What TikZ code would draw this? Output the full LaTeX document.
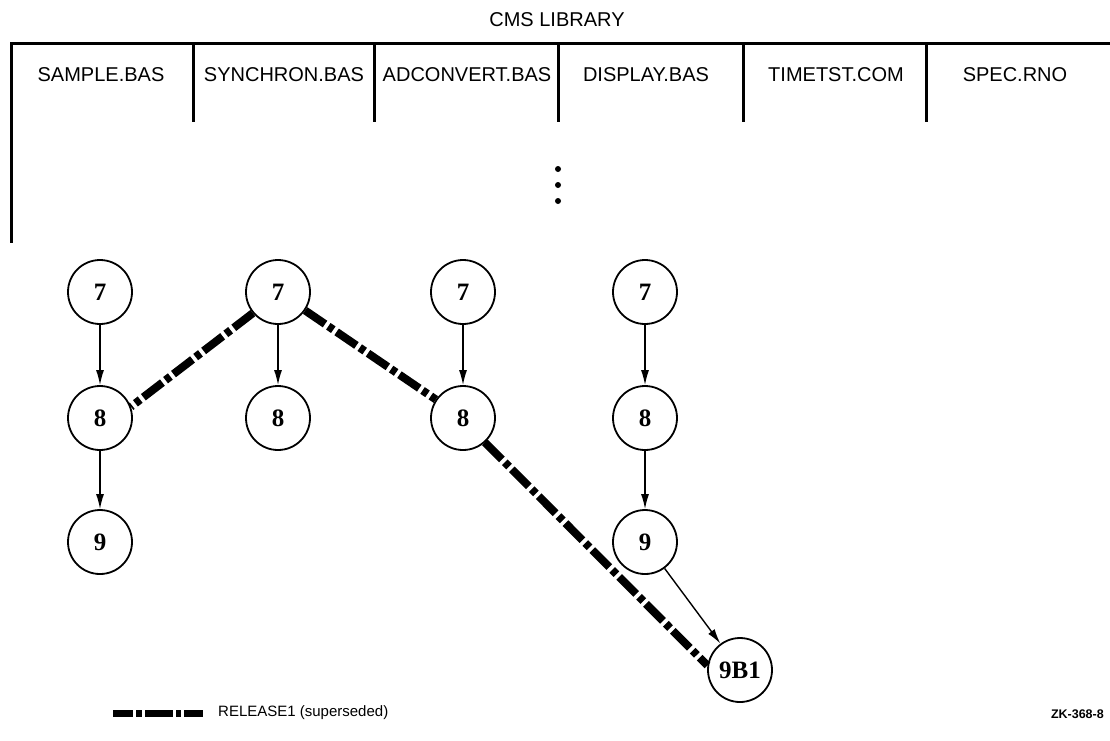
\documentclass[tikz,border=0pt]{standalone}
\usepackage{fontspec}
\setmainfont{Liberation Serif}
\newfontfamily\hdr{Liberation Sans}
\usetikzlibrary{arrows.meta}
\begin{document}
\begin{tikzpicture}[x=1pt,y=-1pt,
  ver/.style={circle,draw,line width=1.8pt,minimum size=64pt,inner sep=0pt,font=\bfseries\fontsize{25}{28}\selectfont},
  arr/.style={line width=1.4pt,-{Latex[length=15pt,width=8pt]}},
  rel/.style={line width=8pt,dash pattern=on 24pt off 4pt on 6pt off 4pt},
  frame/.style={line width=3pt},
  lbl/.style={font=\hdr\fontsize{20}{24}\selectfont,inner sep=0pt}]
\useasboundingbox (0,0) rectangle (1110,740);
% header
\node[lbl] (title) at (557,20) {CMS LIBRARY};
\coordinate (tl) at (11,43);
\coordinate (tr) at (1110,43);
\coordinate (bl) at (11,243);
\draw[frame] (tr) -- (tl) -- (bl);
\foreach \x/\n in {193/d1,374/d2,558/d3,743/d4,926/d5}{
  \coordinate (\n a) at (\x,43);
  \coordinate (\n b) at (\x,122);
  \draw[frame] (\n a) -- (\n b);
}
\node[lbl] (c1) at (101,75) {SAMPLE.BAS};
\node[lbl] (c2) at (284,75) {SYNCHRON.BAS};
\node[lbl] (c3) at (467,75) {ADCONVERT.BAS};
\node[lbl] (c4) at (646,75) {DISPLAY.BAS};
\node[lbl] (c5) at (836,75) {TIMETST.COM};
\node[lbl] (c6) at (1015,75) {SPEC.RNO};
\foreach \y/\n in {169/e1,185/e2,201/e3}{\fill (558,\y) circle (3pt);}
% graph nodes
\node[ver] (a7) at (100,292) {7};
\node[ver] (a8) at (100,418) {8};
\node[ver] (a9) at (100,542) {9};
\node[ver] (b7) at (278,292) {7};
\node[ver] (b8) at (278,418) {8};
\node[ver] (c7) at (463,292) {7};
\node[ver] (c8) at (463,418) {8};
\node[ver] (d7) at (645,292) {7};
\node[ver] (d8) at (645,418) {8};
\node[ver] (d9) at (645,542) {9};
\node[ver] (d9b) at (740,670) {9B1};
% connectors
\draw[arr] (a7) -- (a8);
\draw[arr] (a8) -- (a9);
\draw[arr] (b7) -- (b8);
\draw[arr] (c7) -- (c8);
\draw[arr] (d7) -- (d8);
\draw[arr] (d8) -- (d9);
\draw[arr] (d9) -- (d9b);
\draw[rel] (b7.220) -- (a8.20);
\draw[rel] (b7) -- (c8);
\draw[rel] (c8.-48) -- (d9b.172);
% legend
\coordinate (lg1) at (113,713);
\coordinate (lg2) at (203,713);
\draw[rel,line width=7pt,dash pattern=on 20pt off 3pt on 6pt off 3pt on 28pt off 3pt on 5pt off 3pt on 20pt] (lg1) -- (lg2);
\node[lbl,anchor=west,font=\hdr\fontsize{15}{18}\selectfont] (leg) at (218,713) {RELEASE1 (superseded)};
\node[lbl,anchor=east,font=\hdr\bfseries\fontsize{12.5}{15}\selectfont] (zk) at (1104,714) {ZK-368-8};
\end{tikzpicture}
\end{document}
